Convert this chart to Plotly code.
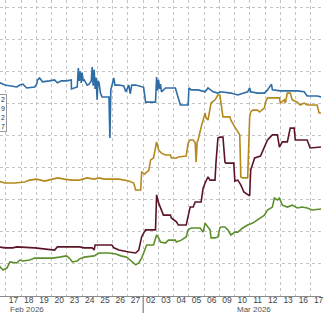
import plotly.graph_objects as go

# trading-day labels (index 0 = 16 Feb 2026 ... 21 = 17 Mar 2026)
day_labels = ["16", "17", "18", "19", "20", "23", "24", "25", "26", "27",
              "02", "03", "04", "05", "06", "09", "10", "11", "12", "13", "16", "17"]
month_labels = ["Feb 2026", "Mar 2026"]
month_label_pos = [2.40, 17.24]
legend_tail = ["2", "9", "2", "7"]

# series (time in trading-day index, value)
blue_t = [0.5, 0.62, 0.94, 1.27, 1.72, 1.92, 2.11, 2.37, 2.89, 3.02, 3.08, 3.21, 3.41, 3.86, 4.19, 4.38,
          4.64, 4.97, 5.16, 5.29, 5.30, 5.68, 5.75, 5.81, 5.88, 5.94, 6.00, 6.07, 6.14, 6.33, 6.46, 6.60,
          6.66, 6.72, 6.79, 6.85, 6.92, 6.98, 7.04, 7.11, 7.20, 7.31, 7.76, 7.82, 7.88, 8.08, 8.15, 8.41,
          8.73, 8.86, 9.06, 9.15, 9.25, 9.51, 10.03, 10.16, 10.81, 10.88, 10.95, 11.01, 11.08, 11.14,
          11.20, 11.46, 12.11, 12.18, 12.31, 12.44, 12.95, 13.00, 13.15, 13.60, 14.06, 14.25, 14.58,
          14.90, 15.10, 15.75, 16.20, 16.85, 16.98, 17.05, 17.50, 17.95, 18.15, 18.41, 18.47, 18.99,
          19.64, 20.10, 20.55, 20.75, 21.40, 21.66]
blue_v = [6.64, 6.64, 6.57, 6.54, 6.51, 6.57, 6.60, 6.48, 6.51, 6.60, 6.73, 6.79, 6.67, 6.70, 6.73, 6.64,
          6.70, 6.70, 6.73, 6.73, 6.45, 6.51, 7.10, 6.70, 7.00, 6.64, 6.95, 6.70, 6.73, 6.57, 6.60, 6.70,
          7.13, 6.55, 7.05, 6.45, 6.80, 6.11, 6.70, 6.64, 6.32, 6.20, 6.20, 4.92, 6.42, 6.79, 6.57, 6.57,
          6.54, 6.36, 6.57, 6.30, 6.57, 6.57, 6.50, 6.04, 6.04, 6.82, 6.40, 6.73, 6.45, 6.60,
          6.36, 6.48, 6.48, 6.36, 6.20, 5.95, 5.95, 6.48, 6.42, 6.42, 6.36, 6.48, 6.36,
          6.32, 6.36, 6.32, 6.26, 6.36, 6.48, 6.36, 6.32, 6.32, 6.42, 6.60, 6.42, 6.39,
          6.39, 6.39, 6.36, 6.23, 6.23, 6.20]

gold_t = [0.5, 0.94, 1.59, 2.24, 2.56, 3.02, 3.54, 4.19, 4.38, 4.84, 5.29, 5.81, 6.33, 6.79, 7.11, 7.44,
          8.41, 9.06, 9.38, 9.51, 9.84, 9.90, 10.10, 10.23, 10.36, 10.49, 10.68, 10.88, 11.01, 11.20,
          11.46, 11.79, 11.85, 12.18, 12.31, 12.82, 12.95, 13.08, 13.28, 13.41, 13.47, 13.54, 13.60,
          13.80, 13.93, 14.06, 14.12, 14.25, 14.45, 14.71, 14.90, 15.03, 15.10, 15.23, 15.68, 15.75,
          16.01, 16.20, 16.33, 16.40, 16.53, 16.85, 16.98, 17.05, 17.18, 17.50, 17.63, 17.95, 18.02,
          18.15, 18.93, 18.99, 19.25, 19.32, 19.45, 19.64, 19.77, 20.10, 20.29, 20.55, 20.75, 21.40,
          21.53, 21.66]
gold_v = [3.58, 3.52, 3.52, 3.55, 3.61, 3.64, 3.58, 3.64, 3.68, 3.64, 3.61, 3.61, 3.68, 3.64, 3.68, 3.64,
          3.64, 3.58, 3.52, 3.30, 3.30, 3.86, 3.80, 3.86, 3.90, 4.24, 4.30, 4.80, 4.55, 4.45,
          4.39, 4.39, 4.30, 4.30, 4.33, 4.36, 4.77, 4.86, 4.86, 4.77, 4.17, 4.80, 4.86,
          5.26, 5.48, 5.70, 5.55, 5.48, 6.01, 6.11, 6.26, 6.26, 6.01, 5.58, 5.58, 5.48,
          5.26, 5.10, 5.02, 3.71, 3.68, 3.68, 5.58, 5.73, 5.79, 5.79, 5.73, 5.86, 6.04,
          6.17, 6.17, 6.01, 6.11, 6.01, 6.32, 6.32, 6.11, 6.04, 5.95, 6.01, 5.95, 5.95,
          5.70, 5.70]

maroon_t = [0.5, 0.94, 1.46, 1.72, 2.89, 3.54, 3.86, 4.19, 4.38, 5.81, 6.14, 6.66, 6.79, 6.85, 6.98,
            7.56, 7.95, 8.08, 8.41, 9.06, 9.51, 9.71, 9.90, 10.03, 10.16, 10.81, 10.88, 11.01, 11.14,
            11.20, 11.33, 11.79, 11.85, 12.18, 12.31, 12.82, 12.95, 13.08, 13.28, 13.41, 13.80, 13.93,
            14.06, 14.25, 14.38, 14.71, 14.77, 14.90, 15.03, 15.23, 15.36, 15.42, 15.94, 16.01, 16.20,
            16.40, 16.60, 16.85, 16.98, 17.05, 17.31, 17.69, 17.95, 18.15, 18.47, 18.80, 18.93, 19.12,
            19.45, 19.64, 19.90, 19.97, 20.75, 20.94, 21.66]
maroon_v = [1.53, 1.50, 1.50, 1.53, 1.50, 1.46, 1.43, 1.43, 1.53, 1.53, 1.50, 1.50, 1.43, 1.59, 1.59,
            1.59, 1.59, 1.50, 1.43, 1.37, 1.34, 1.43, 1.84, 1.96, 2.06, 2.06, 3.15, 2.90, 2.74,
            2.62, 2.52, 2.52, 2.43, 2.31, 2.21, 2.21, 2.46, 2.77, 2.77, 2.93, 2.93, 3.36,
            3.52, 3.71, 3.61, 3.61, 4.14, 4.92, 4.95, 4.95, 4.17, 4.14, 4.14, 3.58, 3.61,
            3.46, 3.24, 3.15, 3.12, 3.93, 4.30, 4.36, 4.64, 4.86, 5.02, 5.02, 4.64, 4.80,
            4.80, 5.23, 5.23, 4.86, 4.86, 4.61, 4.64]

green_t = [0.5, 0.62, 0.81, 1.07, 1.27, 1.72, 1.92, 2.11, 2.56, 2.89, 3.41, 4.06, 4.51, 4.97, 5.16, 5.36,
           5.68, 5.81, 6.14, 6.79, 7.11, 7.76, 8.21, 8.54, 8.93, 9.25, 9.51, 9.71, 9.90, 10.03, 10.16,
           10.23, 10.68, 10.88, 11.01, 11.14, 11.46, 11.66, 12.11, 12.18, 12.50, 12.82, 12.95, 13.15,
           13.73, 13.93, 14.06, 14.25, 14.38, 14.45, 14.71, 14.90, 15.03, 15.10, 15.36, 15.55, 15.75,
           16.01, 16.20, 16.53, 16.85, 17.18, 17.63, 17.95, 18.15, 18.47, 18.60, 18.80, 18.93, 19.12,
           19.45, 19.77, 20.10, 20.42, 20.75, 21.07, 21.66]
green_v = [0.97, 0.90, 0.81, 0.87, 1.06, 1.03, 1.12, 1.09, 1.12, 1.18, 1.18, 1.18, 1.21, 1.25, 1.18, 1.06,
           1.09, 1.15, 1.21, 1.25, 1.34, 1.34, 1.31, 1.25, 1.21, 1.09, 0.97, 1.03, 1.18, 1.34, 1.50,
           1.59, 1.59, 1.90, 1.81, 1.68, 1.65, 1.74, 1.74, 1.68, 1.74, 1.84, 2.06, 2.12,
           2.12, 1.99, 2.27, 2.15, 2.06, 1.81, 1.81, 1.84, 2.12, 2.15, 2.15, 2.06, 1.90,
           1.99, 1.99, 2.12, 2.21, 2.27, 2.43, 2.52, 2.68, 2.77, 3.05, 2.99, 3.05, 2.83,
           2.77, 2.83, 2.74, 2.77, 2.74, 2.68, 2.71]

series = [
    (blue_t, blue_v, "#2f6da6"),
    (gold_t, gold_v, "#b48a1e"),
    (maroon_t, maroon_v, "#5c1526"),
    (green_t, green_v, "#5c8f2b"),
]

fig = go.Figure()
for t, v, c in series:
    fig.add_trace(go.Scatter(x=t, y=v, mode="lines", line=dict(color=c, width=1.6),
                             showlegend=False, hoverinfo="skip"))

n_days = len(day_labels)
centers = [i + 0.5 for i in range(n_days)]
boundaries = list(range(n_days + 1))
month_break = day_labels.index("02")

font_family = "Liberation Sans, Arial, sans-serif"
grid_col = "#c4c4c4"

fig.update_layout(
    width=324, height=313,
    margin=dict(l=0, r=0, t=0, b=17),
    paper_bgcolor="white", plot_bgcolor="white",
    font=dict(family=font_family, size=8.5, color="#444"),
    xaxis=dict(
        range=[0.617, 21.656],
        tickmode="array", tickvals=centers, ticktext=day_labels,
        showgrid=False, zeroline=False, ticks="", ticklen=0,
        ticklabelstandoff=-4, ticklabeloverflow="allow",
        showline=True, linecolor="#8a8a8a", linewidth=1,
        tickfont=dict(size=8.5, color="#444"),
        minor=dict(tickmode="array", tickvals=boundaries, showgrid=True,
                   gridcolor=grid_col, griddash="dot", gridwidth=1, ticks=""),
    ),
    yaxis=dict(
        range=[0, 9.22], tick0=0, dtick=1,
        showgrid=True, gridcolor=grid_col, griddash="dot", gridwidth=1,
        showticklabels=False, zeroline=False, ticks="",
    ),
)

# month separator below the axis
fig.add_shape(type="line", xref="x", yref="paper", x0=month_break, x1=month_break,
              y0=0, y1=-0.06, line=dict(color="#666", width=1))

for lab, pos in zip(month_labels, month_label_pos):
    fig.add_annotation(x=pos, xref="x", y=-13 / 296, yref="paper", yanchor="middle",
                       text=lab, showarrow=False, borderpad=0,
                       font=dict(size=8, color="#555"))

# clipped legend box at the left edge
fig.add_annotation(x=7 / 324, xref="paper", xanchor="right", y=1 - 112.5 / 296, yref="paper",
                   yanchor="middle", text="<br>".join(legend_tail), showarrow=False,
                   align="right", width=60, bgcolor="white", bordercolor="#999", borderwidth=1,
                   borderpad=1, font=dict(size=7, color="#333"))

fig.write_html("out.html")
